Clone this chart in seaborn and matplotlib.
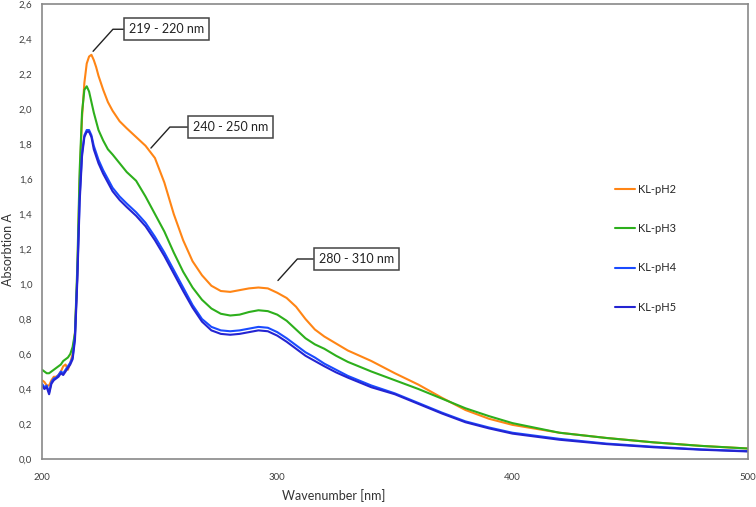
import numpy as np
import pandas as pd
import matplotlib
matplotlib.use("Agg")
import matplotlib.pyplot as plt
import seaborn as sns
from matplotlib.ticker import FuncFormatter, MultipleLocator

wavelength = [200, 201, 202, 203, 204, 205, 206, 207, 208, 209, 210, 211, 212, 213, 214,
              215, 216, 217, 218, 219, 220, 221, 222, 223, 224, 226, 228, 230, 233, 236,
              240, 244, 248, 252, 256, 260, 264, 268, 272, 276, 280, 284, 288, 292, 296,
              300, 304, 308, 312, 316, 320, 325, 330, 340, 350, 360, 370, 380, 390, 400,
              420, 440, 460, 480, 500]

kl_ph2 = [0.45, 0.44, 0.42, 0.42, 0.45, 0.47, 0.47, 0.48, 0.50, 0.53, 0.54, 0.51, 0.55, 0.60, 0.72,
          1.05, 1.60, 1.95, 2.15, 2.26, 2.30, 2.31, 2.28, 2.24, 2.19, 2.11, 2.04, 1.99, 1.93, 1.89,
          1.84, 1.79, 1.72, 1.58, 1.40, 1.25, 1.13, 1.05, 0.99, 0.96, 0.955, 0.965, 0.975, 0.98, 0.975,
          0.95, 0.92, 0.87, 0.80, 0.74, 0.70, 0.66, 0.62, 0.56, 0.49, 0.425, 0.35, 0.28, 0.23, 0.195,
          0.15, 0.12, 0.095, 0.075, 0.06]

kl_ph3 = [0.51, 0.50, 0.49, 0.49, 0.50, 0.51, 0.52, 0.53, 0.54, 0.56, 0.57, 0.58, 0.60, 0.64, 0.72,
          1.10, 1.65, 1.98, 2.11, 2.13, 2.10, 2.04, 1.98, 1.93, 1.88, 1.82, 1.77, 1.74, 1.69, 1.64,
          1.59, 1.50, 1.40, 1.30, 1.18, 1.07, 0.98, 0.91, 0.86, 0.83, 0.82, 0.825, 0.84, 0.85, 0.845,
          0.825, 0.79, 0.74, 0.69, 0.655, 0.63, 0.59, 0.555, 0.50, 0.45, 0.40, 0.345, 0.29, 0.245, 0.205,
          0.15, 0.12, 0.095, 0.075, 0.06]

kl_ph4 = [0.43, 0.41, 0.42, 0.38, 0.44, 0.46, 0.465, 0.48, 0.50, 0.49, 0.51, 0.53, 0.55, 0.58, 0.70,
          1.05, 1.50, 1.75, 1.85, 1.88, 1.88, 1.85, 1.79, 1.75, 1.71, 1.65, 1.60, 1.55, 1.50, 1.46,
          1.41, 1.35, 1.27, 1.18, 1.08, 0.98, 0.88, 0.80, 0.755, 0.735, 0.73, 0.735, 0.745, 0.755, 0.75,
          0.725, 0.69, 0.65, 0.61, 0.58, 0.545, 0.51, 0.475, 0.42, 0.375, 0.32, 0.265, 0.215, 0.18, 0.15,
          0.115, 0.088, 0.07, 0.055, 0.045]

kl_ph5 = [0.42, 0.40, 0.41, 0.37, 0.43, 0.45, 0.46, 0.47, 0.49, 0.48, 0.50, 0.52, 0.54, 0.57, 0.68,
          1.02, 1.47, 1.73, 1.84, 1.87, 1.87, 1.84, 1.77, 1.73, 1.69, 1.63, 1.58, 1.53, 1.48, 1.44,
          1.39, 1.33, 1.25, 1.16, 1.06, 0.96, 0.865, 0.785, 0.735, 0.715, 0.71, 0.715, 0.725, 0.735, 0.73,
          0.705, 0.67, 0.63, 0.59, 0.56, 0.53, 0.495, 0.465, 0.41, 0.37, 0.315, 0.26, 0.21, 0.175, 0.145,
          0.11, 0.085, 0.067, 0.053, 0.043]

labels = ["KL-pH2", "KL-pH3", "KL-pH4", "KL-pH5"]
colores = {"KL-pH2": "#FF8515", "KL-pH3": "#2DAF1C", "KL-pH4": "#1A4BFF", "KL-pH5": "#2424D2"}

# Anmerkungen: Text, Punkt auf der Kurve, Position des Textes
notas = ["219 - 220 nm", "240 - 250 nm", "280 - 310 nm"]
notas_xy = [(221.7, 2.33), (246.3, 1.777), (300.3, 1.02)]
notas_txt = [(237.0, 2.456), (264.2, 1.897), (317.7, 1.143)]

df = pd.DataFrame({
    "Wavelength": wavelength * 4,
    "Absorption": kl_ph2 + kl_ph3 + kl_ph4 + kl_ph5,
    "Sample": [l for l in labels for _ in wavelength],
})

sns.set_theme(style="white")
plt.rcParams["font.family"] = ["Lato", "DejaVu Sans"]

fig, ax = plt.subplots(figsize=(7.56, 5.07), dpi=100)
fig.subplots_adjust(left=0.0556, right=0.989, top=0.992, bottom=0.0947)

sns.lineplot(data=df, x="Wavelength", y="Absorption", hue="Sample", palette=colores,
             hue_order=labels, sort=False, linewidth=1.5, ax=ax)

ax.set_xlim(200, 500)
ax.set_ylim(0, 2.6)
ax.xaxis.set_major_locator(MultipleLocator(100))
ax.yaxis.set_major_locator(MultipleLocator(0.2))
ax.yaxis.set_major_formatter(FuncFormatter(lambda v, p: f"{v:.1f}".replace(".", ",")))
ax.tick_params(axis="both", length=0, labelsize=7, colors="#404040")
ax.tick_params(axis="x", pad=10)
ax.tick_params(axis="y", pad=7)

for s in ax.spines.values():
    s.set_color("#898989")
    s.set_linewidth(1.2)

ax.set_xlabel("Wavenumber [nm]", fontsize=9, color="#333333")
ax.set_ylabel("Absorbtion A", fontsize=9, color="#333333")
ax.xaxis.set_label_coords(0.414, -0.066)
ax.yaxis.set_label_coords(-0.040, 0.46)

for txt, xy, xyt in zip(notas, notas_xy, notas_txt):
    ax.annotate(txt, xy=xy, xytext=xyt, ha="left", va="center", fontsize=9, color="#222222",
                bbox=dict(boxstyle="square,pad=0.4", fc="white", ec="#444444", lw=1.1),
                arrowprops=dict(arrowstyle="-", color="#222222", lw=1.0, relpos=(0, 0.5),
                                shrinkA=0, shrinkB=0,
                                connectionstyle="angle,angleA=0,angleB=48,rad=0"))

ax.legend(loc="upper left", bbox_to_anchor=(0.812, 0.605), frameon=False, fontsize=8,
          handlelength=1.8, handletextpad=0.3, labelspacing=2.55, borderpad=0, borderaxespad=0)

plt.savefig("out.png", dpi=100)
